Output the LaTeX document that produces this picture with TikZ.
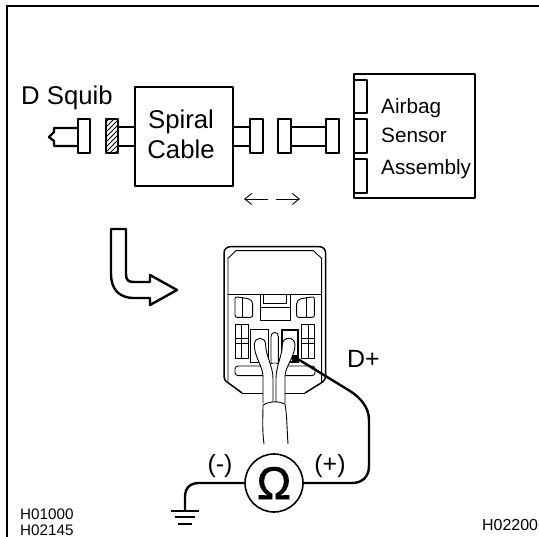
\documentclass[tikz,border=0pt]{standalone}
\usepackage{fontspec}
\setmainfont{Liberation Sans}
\newfontfamily\omegafont[FakeBold=1.2]{Liberation Sans}
\usetikzlibrary{arrows.meta}
\tikzset{
  frameline/.style={line width=2.8bp,line cap=butt},
  heavy/.style={line width=2.4bp,line join=round},
  thin part/.style={line width=0.9bp,line join=round},
  label big/.style={anchor=base west,inner sep=0pt,font=\fontsize{25.8}{26}\selectfont},
  label mid/.style={anchor=base west,inner sep=0pt,font=\fontsize{20.8}{21}\selectfont},
  label code/.style={anchor=base west,inner sep=0pt,font=\fontsize{15.3}{16}\selectfont},
  label sign/.style={anchor=center,inner sep=0pt,font=\fontsize{25}{25}\selectfont},
  dirarrow/.style={line width=0.9bp,-{Straight Barb[length=7bp,width=11bp,line width=0.9bp]}},
}
\begin{document}
\begin{tikzpicture}[x=1bp,y=-1bp]
\useasboundingbox (0,0) rectangle (539,537);
\fill[white] (0,0) rectangle (539,537);
% frame
\draw[frameline] (7,537) -- (7,6) -- (539,6);

% D squib connector
\coordinate (sqA) at (78,128);
\coordinate (sqB) at (78,146);
\draw[heavy] (sqA) -- (54,128) -- (54,132) -- (49,137) -- (54,141) -- (54,146) -- (sqB);
\draw[heavy] (78,119) rectangle (90,153);
\node[label big] (dsquib) at (21,105) {D Squib};

% hatched connector
\begin{scope}
\clip (106,119) rectangle (118,153);
\foreach \k in {0,5,...,60}{\draw[line width=0.8bp] (100,118+\k) -- (125,118+\k-25);}
\end{scope}
\draw[heavy] (106,119) rectangle (118,153);

% spiral cable
\node[draw,heavy,minimum width=98bp,minimum height=99bp,inner sep=0pt] (spiral) at (184,136.5) {};
\node[label big,anchor=base] (spiralA) at (181,129) {Spiral};
\node[label big,anchor=base] (spiralB) at (181,159) {Cable};
\draw[heavy] (118,127) -- (135,127) (118,146) -- (135,146);
\draw[heavy] (233,127) -- (250,127) (233,146) -- (250,146);
\draw[heavy] (250,119) rectangle (263,153);

% harness
\draw[heavy] (278,119) rectangle (291,153);
\draw[heavy] (326,119) rectangle (339,153);
\draw[heavy] (291,127) -- (326,127) (291,146) -- (326,146);

% airbag sensor
\draw[heavy] (354,74) rectangle (475,198);
\draw[heavy] (354,80) rectangle (367,113);
\draw[heavy] (354,119) rectangle (367,153);
\draw[heavy] (354,159) rectangle (367,193);
\node[label mid] (airbag) at (381,114) {Airbag};
\node[label mid] (sensor) at (381,143) {Sensor};
\node[label mid] (assembly) at (381,175) {Assembly};

% direction arrows
\draw[dirarrow] (268,199) -- (244,199);
\draw[dirarrow] (276,199) -- (300,199);

% bent arrow
\draw[heavy] (111,229) -- (126,229) -- (126,274) .. controls (126,280) and (128,282) .. (134,282)
 -- (150,282) -- (150,275) -- (177,290) -- (150,305) -- (150,298) -- (134,298)
 .. controls (118,298) and (111,288) .. (111,274) -- cycle;

% connector body, in coordinates of a 3x view
\begin{scope}[shift={(200,230)},x=0.3333bp,y=-0.3333bp]
\draw[line width=1.5bp,line join=round] (126,489) -- (84,458) .. controls (75,452) and (72,448) .. (72,440)
  -- (72,70) .. controls (72,58) and (80,50) .. (92,50) -- (357,50) .. controls (370,50) and (377,58) .. (377,70)
  -- (377,440) .. controls (377,448) and (372,452) .. (365,458) -- (315,489);
\draw[thin part] (84,456) -- (84,85) -- (108,62) -- (340,62) -- (365,85) -- (365,456);
\draw[thin part] (84,192) -- (365,192);
% top centre
\draw[thin part] (182,195) -- (182,270) -- (270,270) -- (270,195);
\draw[thin part] (190,195) -- (190,220) -- (258,220) -- (258,195);
\draw[thin part] (182,231) -- (270,231);
% side latches
\draw[thin part,rounded corners=2bp] (105,200) -- (150,207) -- (158,215) -- (158,262) -- (105,262) -- cycle;
\draw[thin part] (128,200) -- (128,262);
\draw[thin part,rounded corners=2bp] (343,200) -- (298,207) -- (290,215) -- (290,262) -- (343,262) -- cycle;
\draw[thin part] (320,200) -- (320,262);
% grids
\draw[thin part] (105,282) rectangle (145,385);
\draw[thin part] (125,282) -- (125,385) (105,325) -- (145,325) (105,340) -- (145,340);
\draw[thin part] (305,282) rectangle (343,385);
\draw[thin part] (324,282) -- (324,385) (305,325) -- (343,325) (305,340) -- (343,340);
% terminal windows
\draw[thin part] (152,298) rectangle (205,398);
\draw[line width=1.8bp] (245,300) rectangle (295,395);
\draw[thin part] (213,320) .. controls (213,303) and (235,303) .. (235,320) -- (235,400) -- (213,400) -- cycle;
\draw[thin part,rounded corners=3bp] (105,408) rectangle (345,437);
% wires
\fill[white] (189,430) -- (189,519) -- (255,519) -- (255,430) -- (228,400) -- (219,400) -- cycle;
\draw[thin part,fill=white] (189,519) -- (189,440) .. controls (189,410) and (163,380) .. (163,345)
  .. controls (163,318) and (197,318) .. (197,345) .. controls (197,375) and (219,410) .. (219,445) -- (219,519);
\draw[thin part,fill=white] (255,519) -- (255,440) .. controls (255,410) and (285,380) .. (285,345)
  .. controls (285,318) and (247,318) .. (247,345) .. controls (247,375) and (228,410) .. (228,445) -- (228,519);
\fill (277,374) rectangle (293,392);
\coordinate (dplus) at (285,382);
\end{scope}

% wire exit and sheath
\draw[thin part] (242,393) -- (263,393) (285,393) -- (305,393);
\draw[thin part,fill=white] (264,444) .. controls (262,430) and (263,415) .. (263,405)
  .. controls (270,401) and (279,401) .. (285,404) .. controls (287,415) and (287,430) .. (288,444);

% meter
\node[draw,line width=1.6bp,circle,minimum size=58bp,inner sep=0pt,
      font=\fontsize{46}{46}\omegafont\selectfont] (meter) at (274,483) {Ω};
\node[label sign] (minus) at (220,466) {(-)};
\node[label sign] (plus) at (330,466) {(+)};
\node[label big,font=\fontsize{25}{25}\selectfont] (dlabel) at (347,367) {D+};

% wires to meter
\draw[heavy] (dplus) -- (350,391) .. controls (361,398) and (369,408) .. (369,420)
  -- (369,466) .. controls (369,477) and (362,483) .. (352,483) -- (meter.east);
\coordinate (gnd) at (185,511);
\draw[heavy] (meter.west) -- (199,483) .. controls (190,483) and (185,488) .. (185,497) -- (gnd);
\draw[line width=1.5bp] (171,511) -- (199,511);
\draw[line width=1.2bp] (175,517) -- (195,517);
\draw[line width=1.2bp] (178,524) -- (192,524);

% codes
\node[label code] (codeA) at (20,519) {H01000};
\node[label code] (codeB) at (20,535) {H02145};
\node[label code,font=\fontsize{16}{16}\selectfont] (codeC) at (482,530) {H02200};
\end{tikzpicture}
\end{document}
